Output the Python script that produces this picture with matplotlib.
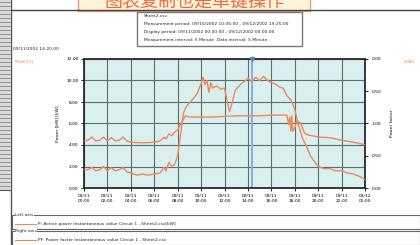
import numpy as np
import matplotlib
matplotlib.use("Agg")
import matplotlib.pyplot as plt
from matplotlib.patches import Rectangle

plt.rcParams['font.family'] = ['DejaVu Sans', 'Noto Sans CJK SC']

# active power P [kW], left axis (hour of 09/11, value)
p_hours = [0, 0.33, 0.67, 1, 1.33, 1.67, 2, 2.33, 2.67, 3, 3.33, 3.67, 4, 4.5, 5, 5.5, 6, 6.5,
           6.83, 7, 7.25, 7.5, 7.75, 8, 8.25, 8.5, 8.75, 9, 9.33, 9.67, 10, 10.17, 10.33, 10.5,
           10.67, 10.83, 11, 11.33, 11.67, 12, 12.25, 12.42, 12.67, 12.92, 13.33, 13.67, 14,
           14.33, 14.67, 15, 15.33, 15.67, 16, 16.33, 16.67, 17, 17.33, 17.67, 17.83, 18, 18.33,
           18.67, 19, 19.33, 19.67, 20, 20.5, 21, 21.5, 22, 22.5, 23, 23.5, 24]
p_kw = [1.7, 1.7, 1.9, 1.6, 1.7, 2.0, 1.6, 1.9, 1.6, 1.7, 1.9, 1.5, 1.4, 1.2, 1.3, 1.2, 1.3, 1.4,
        1.9, 1.6, 2.4, 2.0, 2.2, 3.0, 5.0, 7.0, 7.6, 7.9, 8.3, 8.8, 9.7, 10.3, 9.6, 10.0,
        8.9, 9.8, 9.3, 9.5, 9.2, 9.3, 8.0, 7.1, 8.0, 9.1, 9.6, 9.9, 10.2,
        9.9, 10.3, 10.0, 10.4, 10.0, 9.8, 9.7, 9.4, 9.3, 8.6, 8.2, 7.8, 7.3, 5.8,
        4.6, 3.9, 3.0, 2.5, 2.0, 1.8, 1.8, 1.6, 1.6, 1.4, 1.3, 1.1, 0.8]

# power factor PF, right axis (+ lead, - lag)
pf_hours = [0, 0.33, 0.67, 1, 1.33, 1.67, 2, 2.33, 2.67, 3, 3.33, 3.67, 4, 5, 6, 6.5, 6.83, 7,
            7.25, 7.5, 7.75, 8, 8.25, 8.67, 9, 10, 11, 12, 13, 14, 15, 16, 17, 17.33, 17.5,
            17.58, 17.67, 17.75, 17.83, 18, 18.17, 18.5, 18.83, 19.17, 19.5, 20, 21, 22, 23, 24]
pf = [-0.73, -0.74, -0.79, -0.73, -0.74, -0.79, -0.73, -0.78, -0.73, -0.74, -0.79, -0.73, -0.71,
      -0.70, -0.71, -0.73, -0.79, -0.76, -0.84, -0.81, -0.87, -0.90, -0.99, 0.88, 0.90, 0.90,
      0.90, 0.89, 0.88, 0.88, 0.88, 0.87, 0.87, 0.87, -0.98, 0.90, -0.88, 0.88, -0.88, -0.93,
      0.96, 0.99, -0.85, -0.82, -0.81, -0.79, -0.78, -0.74, -0.71, -0.67]

left_ticks = [0, 2, 4, 6, 8, 10, 12]
right_ticks = [-1, -0.5, 0, 0.5, 1]
right_labels = ["0.00", "0.50", "1.00", "0.50", "0.00"]
x_ticks = list(range(0, 25, 2))
x_labels = [("09/12" if h == 24 else "09/11") + "\n%02d:00" % (h % 24) for h in x_ticks]

W, H = 420, 245
fig = plt.figure(figsize=(W / 100, H / 100), dpi=100)
fig.patch.set_facecolor('white')

def fx(x):
    return x / W

def fy(y):
    return 1 - y / H

orange = '#ec8a5c'
tiny = 3.2

# window chrome
fig.add_artist(Rectangle((0, fy(190)), fx(10), 1 - fy(190), transform=fig.transFigure,
                         facecolor='#d8d8d8', edgecolor='none'))
for yy in range(2, 190, 4):
    fig.add_artist(plt.Line2D([0, fx(10)], [fy(yy), fy(yy)], color='#8a8a8a', lw=0.6))
fig.add_artist(plt.Line2D([fx(10.5), fx(10.5)], [0, 1], color='#555555', lw=1.0))
fig.add_artist(plt.Line2D([0, fx(10)], [fy(190), fy(190)], color='#555555', lw=0.8))
fig.add_artist(plt.Line2D([fx(10.5), 1], [fy(10.5), fy(10.5)], color='#444444', lw=1.0))

# banner
fig.add_artist(Rectangle((fx(78), fy(11)), fx(232), fy(0) - fy(11) + 0.02,
                         transform=fig.transFigure, facecolor='#fff3dc',
                         edgecolor='#f09a70', lw=1.0))
fig.text(fx(195), fy(2), "图表复制也是单键操作", family=['Noto Sans CJK SC', 'DejaVu Sans'],
         fontsize=13, color='#f26a3a', ha='center', va='center')

# info box
fig.add_artist(Rectangle((fx(137), fy(46)), fx(165), fy(12) - fy(46), transform=fig.transFigure,
                         facecolor='white', edgecolor='#777777', lw=1.0))
info = ["Sheet2.csv",
        "Measurement period: 09/10/2002 10:35:00 - 09/12/2002 19:25:00",
        "Display period: 09/11/2002 00:00:00 - 09/12/2002 00:00:00",
        "Measurement interval: 5 Minute  Data interval: 5 Minute"]
for i, t in enumerate(info):
    fig.text(fx(144), fy(16 + 8 * i), t, fontsize=tiny, color='#222222', va='center')

fig.text(fx(13), fy(49), "09/11/2002 14:20:00", fontsize=tiny, color='#222222', va='center')
fig.text(fx(15), fy(61), "P(kW)[1]", fontsize=tiny, color=orange, va='center')
fig.text(fx(404), fy(62), "LEAD", fontsize=tiny, color=orange, va='center')

# chart
ax = fig.add_axes([fx(84), fy(188), fx(281), fy(59) - fy(188)])
ax.set_facecolor('#daeff0')
ax.plot(p_hours, p_kw, color=orange, lw=1.0, zorder=3)
ax.set_xlim(0, 24)
ax.set_ylim(0, 12)
ax.set_xticks(x_ticks)
ax.set_xticklabels(x_labels, fontsize=tiny, linespacing=1.5)
ax.set_yticks(left_ticks)
ax.set_yticklabels(["%.2f" % v for v in left_ticks], fontsize=tiny)
ax.grid(True, color='#5e6e6d', lw=0.8)
ax.tick_params(length=2, width=0.6, pad=2)
ax.set_ylabel("Power [kW] [kW]", fontsize=tiny, labelpad=5)
for s in ax.spines.values():
    s.set_color('#2a2a2a')
    s.set_linewidth(1.3)
ax.axvline(14 + 20 / 60, color='#86aee0', lw=1.4, zorder=2)
ax.plot([14 + 20 / 60], [12], marker='v', color='#5a88c8', ms=3, clip_on=False, zorder=4)

ax2 = ax.twinx()
pf_arr = np.array(pf)
pf_pos = np.sign(pf_arr) * (1 - np.abs(pf_arr))
ax2.plot(pf_hours, pf_pos, color=orange, lw=1.0, zorder=3)
ax2.set_ylim(-1, 1)
ax2.set_yticks(right_ticks)
ax2.set_yticklabels(right_labels, fontsize=tiny)
ax2.tick_params(length=2, width=0.6, pad=3)
ax2.set_ylabel("Power factor", fontsize=tiny, labelpad=6)
for s in ax2.spines.values():
    s.set_visible(False)

# legend panels
fig.add_artist(Rectangle((fx(12), fy(229)), fx(408), fy(215) - fy(229), transform=fig.transFigure,
                         facecolor='none', edgecolor='#666666', lw=0.8))
fig.add_artist(Rectangle((fx(12), fy(245)), fx(408), fy(231) - fy(245), transform=fig.transFigure,
                         facecolor='none', edgecolor='#666666', lw=0.8))
fig.text(fx(15), fy(215), "Left axis", fontsize=tiny, color='#222222', va='center',
         bbox=dict(facecolor='white', edgecolor='none', pad=0.3))
fig.text(fx(15), fy(231), "Right axis", fontsize=tiny, color='#222222', va='center',
         bbox=dict(facecolor='white', edgecolor='none', pad=0.3))
fig.add_artist(plt.Line2D([fx(15), fx(36)], [fy(224), fy(224)], color=orange, lw=0.8))
fig.add_artist(plt.Line2D([fx(15), fx(36)], [fy(240), fy(240)], color=orange, lw=0.8))
fig.text(fx(38), fy(224), "P: Active power Instantaneous value Circuit 1 , Sheet2.csv[kW]",
         fontsize=tiny, color='#222222', va='center')
fig.text(fx(38), fy(240), "PF: Power factor Instantaneous value Circuit 1 , Sheet2.csv",
         fontsize=tiny, color='#222222', va='center')

fig.savefig("out.png", dpi=100)
